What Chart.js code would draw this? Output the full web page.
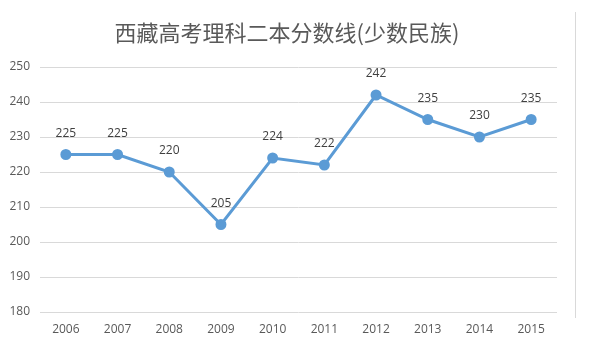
<!DOCTYPE html>
<html>
<head>
<meta charset="utf-8">
<script src="https://cdn.jsdelivr.net/npm/chart.js@4/dist/chart.umd.min.js"></script>
<style>
html,body{margin:0;padding:0;background:#fff;}
#wrap{width:611px;height:358px;position:relative;}
</style>
</head>
<body>
<div id="wrap"><canvas id="c" width="611" height="358"></canvas></div>
<script>
const categories = ['2006','2007','2008','2009','2010','2011','2012','2013','2014','2015'];
const scores = [225, 225, 220, 205, 224, 222, 242, 235, 230, 235];
const yTicks = [180, 190, 200, 210, 220, 230, 240, 250];
const chartTitle = '西藏高考理科二本分数线(少数民族)';

const labelPlugin = {
  id: 'valueLabels',
  afterDatasetsDraw(chart) {
    const ctx = chart.ctx;
    const meta = chart.getDatasetMeta(0);
    ctx.save();
    ctx.font = '12px "Open Sans", "DejaVu Sans", sans-serif';
    ctx.fillStyle = '#404040';
    ctx.textAlign = 'center';
    ctx.textBaseline = 'middle';
    meta.data.forEach((pt, i) => {
      ctx.fillText(String(scores[i]), pt.x, pt.y - 21);
    });
    ctx.restore();
  },
  afterDraw(chart) {
    const ctx = chart.ctx;
    ctx.save();
    ctx.font = '22px "Noto Sans CJK SC", sans-serif';
    ctx.fillStyle = '#595959';
    ctx.textAlign = 'center';
    ctx.textBaseline = 'middle';
    ctx.fillText(chartTitle, 287, 33);
    ctx.strokeStyle = '#d9d9d9';
    ctx.lineWidth = 1;
    ctx.beginPath();
    ctx.moveTo(575.5, 12);
    ctx.lineTo(575.5, 318);
    ctx.stroke();
    ctx.restore();
  }
};

new Chart(document.getElementById('c'), {
  type: 'line',
  data: {
    labels: categories,
    datasets: [{
      data: scores,
      borderColor: '#5b9bd5',
      backgroundColor: '#5b9bd5',
      borderWidth: 3,
      pointRadius: 4,
      pointHoverRadius: 4,
      pointBackgroundColor: '#5b9bd5',
      pointBorderColor: '#5b9bd5',
      tension: 0
    }]
  },
  options: {
    responsive: false,
    animation: false,
    devicePixelRatio: 1,
    layout: { padding: { left: 0, right: 54, top: 67, bottom: 0 } },
    plugins: {
      legend: { display: false },
      tooltip: { enabled: false },
      title: { display: false }
    },
    scales: {
      x: {
        offset: true,
        grid: { display: false, drawTicks: false, offset: true },
        border: { display: false },
        ticks: {
          color: '#595959',
          font: { family: '"Open Sans", "DejaVu Sans", sans-serif', size: 12 },
          padding: 10,
          maxRotation: 0,
          autoSkip: false
        },
        afterFit(scale) { scale.height = 46; }
      },
      y: {
        min: 180,
        max: 250,
        afterBuildTicks(scale) { scale.ticks = yTicks.map(v => ({ value: v })); },
        grid: { color: '#d9d9d9', drawTicks: false, lineWidth: 1 },
        border: { display: false },
        ticks: {
          color: '#595959',
          font: { family: '"Open Sans", "DejaVu Sans", sans-serif', size: 12 },
          padding: 10
        },
        afterFit(scale) { scale.width = 40; }
      }
    }
  },
  plugins: [labelPlugin]
});
</script>
</body>
</html>
